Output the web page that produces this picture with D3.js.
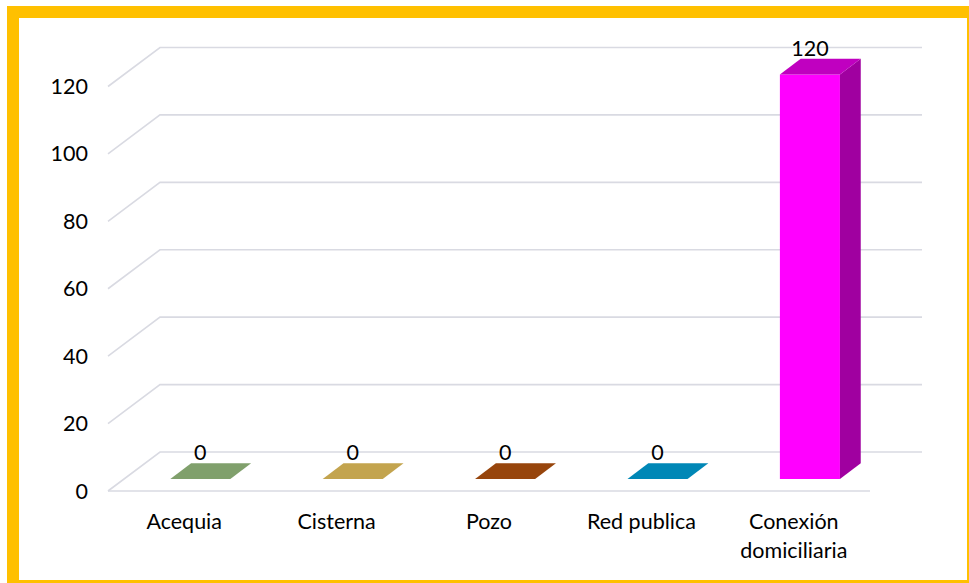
<!DOCTYPE html>
<html><head><meta charset="utf-8">
<script src="https://cdn.jsdelivr.net/npm/d3@7"></script>
<style>html,body{margin:0;padding:0;background:#fff;overflow:hidden}</style>
</head><body>
<svg id="c" width="969" height="583"></svg>
<script>
const categories = ["Acequia", "Cisterna", "Pozo", "Red publica", "Conexión domiciliaria"];
const values = [0, 0, 0, 0, 120];
const yTicks = [0, 20, 40, 60, 80, 100, 120];
const frontColors = ["#80A06C", "#C3A44E", "#97450C", "#0087B6", "#FF00FF"];
const topColors = ["#80A06C", "#C3A44E", "#97450C", "#0087B6", "#C000C0"];
const sideColors = ["#6A8858", "#A88A3C", "#7A3808", "#006F96", "#A000A0"];

const svg = d3.select("#c");
const font = "Lato, 'Open Sans', sans-serif";
const fs = 21.5;

// border
svg.append("rect").attr("x", 13).attr("y", 12).attr("width", 960).attr("height", 574)
  .attr("fill", "#fff").attr("stroke", "#FFC000").attr("stroke-width", 12);

// 3D geometry
const floorLeft = 108, floorRight = 870, floorY = 491;
const depthX = 52, depthY = 39;
const y = d3.scaleLinear().domain([0, 120]).range([0, 404.5]);
const x = d3.scaleBand().domain(categories).range([floorLeft, floorRight]).paddingInner(0.606).paddingOuter(0.303);
const xc = d3.scaleBand().domain(categories).range([floorLeft, floorRight]);
const P = (xf, v, d) => [xf + d * depthX, floorY - d * depthY - y(v)];

// gridlines
const g = svg.append("g").attr("fill", "none").attr("stroke", "#D9DAE2").attr("stroke-width", 1.6);
yTicks.forEach(t => {
  const a = P(floorLeft, t, 0), b = P(floorLeft, t, 1), c = P(floorRight, t, 1);
  g.append("path").attr("d", `M${a}L${b}L${c}`);
});
g.append("path").attr("d", `M${P(floorLeft,0,0)}L${P(floorRight,0,0)}`);

// y labels
svg.append("g").selectAll("text").data(yTicks).join("text")
  .attr("x", 88).attr("y", d => P(floorLeft, d, 0)[1]).attr("dy", "0.35em")
  .attr("text-anchor", "end").attr("font-family", font).attr("font-size", fs).attr("fill", "#000")
  .text(d => d);

// bars
const d0 = 0.31, d1 = 0.71;
const bars = svg.append("g");
categories.forEach((cat, i) => {
  const v = values[i];
  const xl = x(cat), xr = xl + x.bandwidth();
  const poly = pts => pts.map(p => p.join(",")).join(" ");
  if (v > 0) {
    bars.append("polygon").attr("points", poly([P(xl,0,d0), P(xr,0,d0), P(xr,v,d0), P(xl,v,d0)])).attr("fill", frontColors[i]);
    bars.append("polygon").attr("points", poly([P(xr,0,d0), P(xr,0,d1), P(xr,v,d1), P(xr,v,d0)])).attr("fill", sideColors[i]);
  }
  bars.append("polygon").attr("points", poly([P(xl,v,d0), P(xr,v,d0), P(xr,v,d1), P(xl,v,d1)])).attr("fill", topColors[i]);
  const top = P((xl + xr) / 2, v, d1);
  bars.append("text").attr("x", P((xl + xr) / 2, v, d0)[0]).attr("y", top[1] - 3)
    .attr("text-anchor", "middle").attr("font-family", font).attr("font-size", fs).attr("fill", "#000").text(v);
});

// x labels
const lbl = svg.append("g");
categories.forEach((cat, i) => {
  const cx = xc(cat) + xc.bandwidth() / 2;
  const words = cat === "Conexión domiciliaria" ? ["Conexión", "domiciliaria"] : [cat];
  words.forEach((w, k) => {
    lbl.append("text").attr("x", cx).attr("y", 529 + k * 29).attr("text-anchor", "middle")
      .attr("font-family", font).attr("font-size", fs).attr("fill", "#000").text(w);
  });
});
</script>
</body></html>
